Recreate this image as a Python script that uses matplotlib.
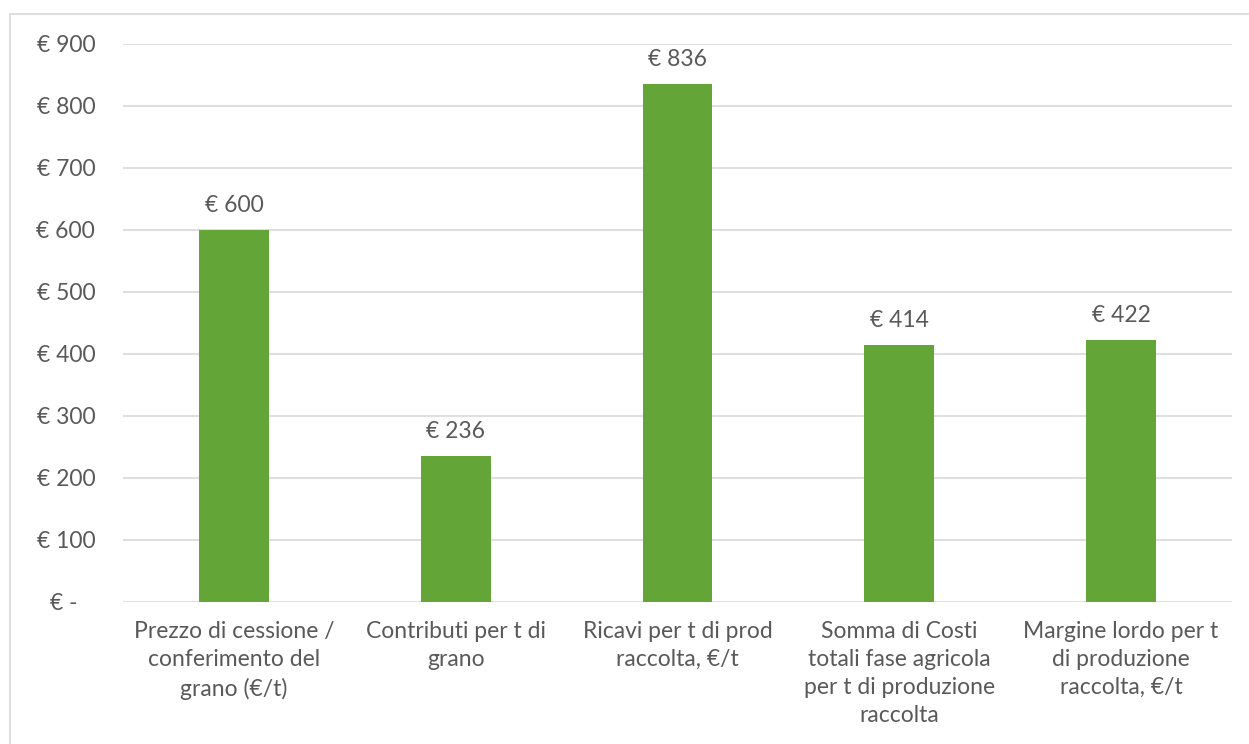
import matplotlib.pyplot as plt
from matplotlib.patches import Rectangle

# categories (wrapped as shown on the axis) and values in euro per tonne
categories = [
    "Prezzo di cessione /\nconferimento del\ngrano (€/t)",
    "Contributi per t di\ngrano",
    "Ricavi per t di prod\nraccolta, €/t",
    "Somma di Costi\ntotali fase agricola\nper t di produzione\nraccolta",
    "Margine lordo per t\ndi produzione\nraccolta, €/t",
]
values = [600, 236, 836, 414, 422]
yticks = [0, 100, 200, 300, 400, 500, 600, 700, 800, 900]

GREEN = "#63a537"
TEXT = "#595959"
GRID = "#d9d9d9"
FS = 16.5

plt.rcParams["font.family"] = ["Lato", "DejaVu Sans"]

fig = plt.figure(figsize=(12.49, 7.44), dpi=100)
ax = fig.add_axes([0.0985, 0.1909, 0.8879, 0.75])

# chart frame: only top and left edges are inside the image
fig.patches.append(Rectangle((10 / 1249, -0.1), 1.2, 1 - 14 / 744 + 0.1,
                             transform=fig.transFigure, fill=False,
                             edgecolor="#d9d9d9", lw=1.2, zorder=0))

x = range(len(values))
bars = ax.bar(x, values, width=0.315, color=GREEN, zorder=2)

for b, v in zip(bars, values):
    ax.annotate(f"€ {v}", (b.get_x() + b.get_width() / 2, v),
                xytext=(0, 10), textcoords="offset points",
                ha="center", va="bottom", fontsize=FS, color=TEXT)

ax.set_xlim(-0.5, len(values) - 0.5)
ax.set_ylim(0, 900)
ax.set_yticks(yticks)
ax.set_yticklabels(["€ -   "] + [f"€ {t}" for t in yticks[1:]])
ax.set_xticks(list(x))
ax.set_xticklabels(categories, linespacing=1.4)

ax.grid(axis="y", color=GRID, lw=1.2, zorder=0)
ax.set_axisbelow(True)
for s in ax.spines.values():
    s.set_visible(False)
ax.tick_params(axis="both", length=0, labelsize=FS, labelcolor=TEXT)
ax.tick_params(axis="y", pad=20)
ax.tick_params(axis="x", pad=14)

fig.savefig("out.png", dpi=100)
